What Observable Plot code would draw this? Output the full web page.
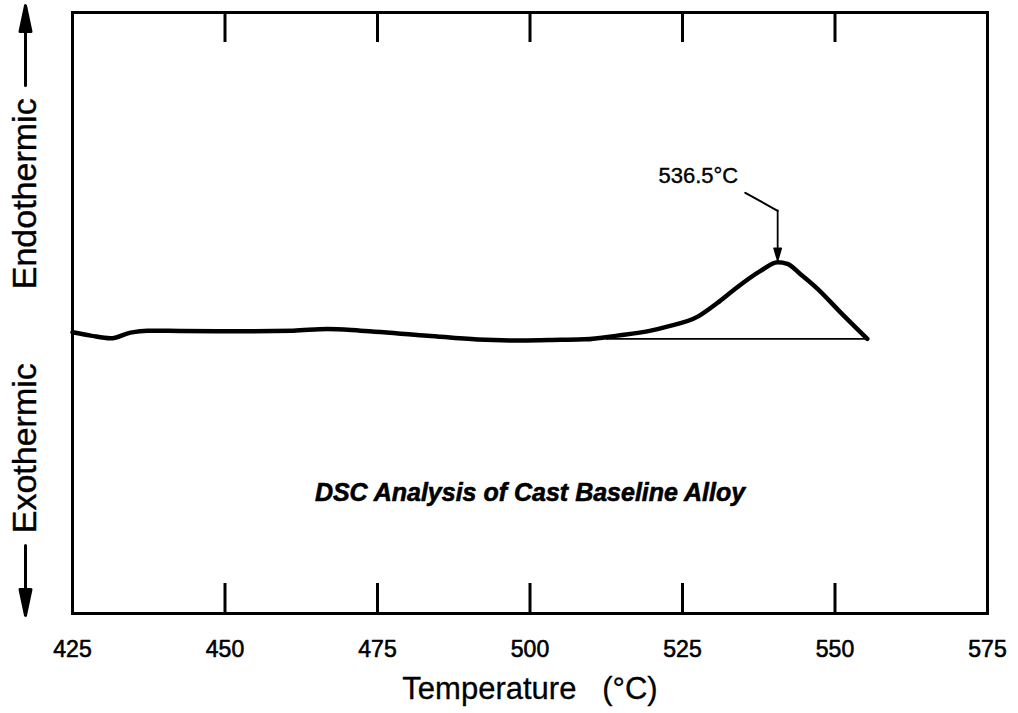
<!DOCTYPE html>
<html><head><meta charset="utf-8">
<script src="https://cdn.jsdelivr.net/npm/d3@7"></script>
<script src="https://cdn.jsdelivr.net/npm/@observablehq/plot@0.6"></script>
<style>body{margin:0;background:#fff}</style>
</head><body><div id="chart"></div>
<script>
// DSC trace (temperature in °C, signal in arbitrary units)
const temps  = [425, 428, 431.2, 434.5, 437.3, 443, 450.4, 461.2, 466.8, 472.2, 483.2, 491.4, 498.6, 505, 509, 514.3, 519.8, 522.5, 527.5, 530.7, 533.4, 537.8, 540.6, 542.2, 544.3, 547.1, 550.9, 555.3];
const signal = [28.07, 27.74, 27.47, 28.04, 28.24, 28.2, 28.17, 28.24, 28.41, 28.24, 27.74, 27.35, 27.25, 27.32, 27.37, 27.74, 28.24, 28.64, 29.64, 31.0, 32.3, 34.2, 35.06, 34.9, 33.9, 32.44, 30.07, 27.42];
const baselineTemps  = [512.5, 555.3];
const baselineSignal = [27.42, 27.42];

const xTickLabels = [425, 450, 475, 500, 525, 550, 575];
const innerTicks  = [450, 475, 500, 525, 550];
const xLabel = "Temperature\u00a0\u00a0\u00a0(°C)";
const title = "DSC Analysis of Cast Baseline Alloy";
const titleY = [12.0];
const peakLabel = "536.5°C";
const peakLabelT = [527.6];
const peakLabelY = [43.7];
const leaderTemps  = [535.3, 540.6];
const leaderSignal = [42.0, 40.2];
const sideLabels = ["Endothermic", "Exothermic"];
const sideLabelY = [41.9, 16.5];
const sideArrowStartY = [52.7, 6.8];

const trace = temps.map((t, i) => ({t, v: signal[i]}));
const baseline = baselineTemps.map((t, i) => ({t, v: baselineSignal[i]}));
const leader = leaderTemps.map((t, i) => ({t, v: leaderSignal[i]}));
const peak = trace.reduce((a, b) => (b.v > a.v ? b : a));

function arrowShape(h, w) {
  return {
    draw(context, l) {
      context.moveTo(0, 0);
      context.lineTo(0, -l + h);
      context.moveTo(-w, -l + h);
      context.lineTo(0, -l);
      context.lineTo(w, -l + h);
      context.closePath();
    }
  };
}

const font = "'Liberation Sans', Arial, Helvetica, sans-serif";
const ink = {fill: "#000", stroke: "#000"};

const chart = Plot.plot({
  width: 1018,
  height: 713,
  marginLeft: 72,
  marginRight: 31,
  marginTop: 12,
  marginBottom: 100,
  x: {domain: [425, 575], axis: null},
  y: {domain: [0, 60], axis: null},
  style: {fontFamily: font, background: "#fff", color: "#000"},
  marks: [
    Plot.frame({stroke: "#000", strokeWidth: 3}),
    Plot.ruleX(innerTicks, {x: d => d, insetTop: 571, stroke: "#000", strokeWidth: 3}),
    Plot.ruleX(innerTicks, {x: d => d, insetBottom: 571, stroke: "#000", strokeWidth: 3}),
    Plot.text(xTickLabels, {x: d => d, frameAnchor: "bottom", dy: 36, lineAnchor: "middle", fontSize: 23,
      text: d => String(d), ...ink, strokeWidth: 0.6}),
    Plot.text([xLabel], {frameAnchor: "bottom", dy: 76, lineAnchor: "middle", fontSize: 31, text: d => d,
      ...ink, strokeWidth: 0.3}),
    Plot.line(baseline, {x: "t", y: "v", stroke: "#000", strokeWidth: 1.7}),
    Plot.line(trace, {x: "t", y: "v", stroke: "#000", strokeWidth: 4.5, curve: "monotone-x", strokeLinejoin: "round"}),
    Plot.line(leader, {x: "t", y: "v", stroke: "#000", strokeWidth: 2}),
    Plot.vector([peak], {x: "t", y: "v", anchor: "end", length: 50, rotate: 180, dy: -2,
      shape: arrowShape(12, 3.5), stroke: "#000", fill: "#000", strokeWidth: 1.8}),
    Plot.text([peakLabel], {x: () => peakLabelT[0], y: () => peakLabelY[0], text: d => d, fontSize: 22,
      lineAnchor: "middle", ...ink, strokeWidth: 0.4}),
    Plot.text([title], {y: () => titleY[0], text: d => d, fontSize: 25, fontWeight: "bold", fontStyle: "italic",
      lineAnchor: "middle", ...ink, strokeWidth: 0.6}),
    Plot.text(sideLabels, {frameAnchor: "left", dx: -47, y: (d, i) => sideLabelY[i], text: d => d, rotate: -90,
      fontSize: 34, textAnchor: "middle", lineAnchor: "middle", ...ink, strokeWidth: 0.4}),
    Plot.vector([sideArrowStartY[0]], {frameAnchor: "left", dx: -47, y: d => d, anchor: "start", length: 80, rotate: 0,
      shape: arrowShape(26, 5.5), stroke: "#000", fill: "#000", strokeWidth: 3}),
    Plot.vector([sideArrowStartY[1]], {frameAnchor: "left", dx: -47, y: d => d, anchor: "start", length: 70, rotate: 180,
      shape: arrowShape(26, 5.5), stroke: "#000", fill: "#000", strokeWidth: 3})
  ]
});
document.getElementById("chart").append(chart);
</script>
</body></html>
